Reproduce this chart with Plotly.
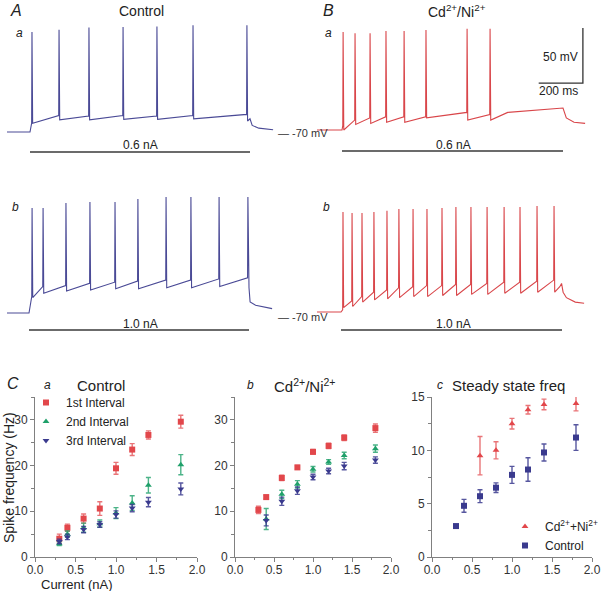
import plotly.graph_objects as go

W, H = 601, 591

# ---------------- DATA ----------------
current_nA = [0.3, 0.4, 0.6, 0.8, 1.0, 1.2, 1.4, 1.8]

# C a: Control
ctl_1st = [4.0, 6.4, 8.4, 10.6, 19.4, 23.5, 26.7, 29.6]
ctl_1st_err = [1.0, 0.8, 1.0, 1.5, 1.3, 1.3, 0.9, 1.4]
ctl_2nd = [2.9, 5.0, 6.4, 7.3, 9.6, 11.8, 15.7, 20.2]
ctl_2nd_err = [0.4, 0.7, 1.0, 0.8, 1.2, 1.6, 1.7, 2.2]
ctl_3rd = [3.4, 4.4, 6.0, 7.1, 9.3, 10.7, 12.0, 14.9]
ctl_3rd_err = [0.5, 0.6, 0.7, 0.6, 0.8, 0.8, 1.0, 1.3]

# C b: Cd2+/Ni2+
cd_x = [0.3, 0.4, 0.6, 0.8, 1.0, 1.2, 1.4, 1.8]
cd_1st = [10.3, 13.1, 17.3, 19.6, 23.0, 24.3, 26.1, 28.2]
cd_1st_err = [0.8, 0.4, 0.6, 0.4, 0.5, 0.6, 0.6, 0.9]
cd_x23 = [0.4, 0.6, 0.8, 1.0, 1.2, 1.4, 1.8]
cd_2nd = [8.3, 13.7, 15.9, 19.2, 20.8, 22.2, 23.7]
cd_2nd_err = [2.3, 0.9, 0.8, 0.6, 0.5, 0.7, 0.8]
cd_3rd = [8.0, 12.2, 14.5, 17.5, 18.8, 19.9, 21.2]
cd_3rd_err = [1.2, 0.9, 0.8, 0.6, 0.6, 0.8, 0.7]

# C c: steady state freq
ss_cd_x = [0.6, 0.8, 1.0, 1.2, 1.4, 1.8]
ss_cd = [9.5, 10.0, 12.5, 13.8, 14.3, 14.4]
ss_cd_err = [1.8, 0.8, 0.5, 0.4, 0.5, 0.7]
ss_ctl_x = [0.3, 0.4, 0.6, 0.8, 1.0, 1.2, 1.4, 1.8]
ss_ctl = [2.9, 4.8, 5.7, 6.5, 7.7, 8.2, 9.8, 11.2]
ss_ctl_err = [0.0, 0.6, 0.6, 0.45, 0.8, 1.1, 0.8, 1.2]

# Voltage traces (ms, mV)
# A a: Control, 0.6 nA
Aa_spk_t = [9, 132, 268, 423, 577, 741, 986]
Aa_peak = [21, 23, 25, 25.5, 26, 27, 27]
Aa_trough = [-62, -59, -59, -58.5, -58.5, -58, -60]
Aa_pre = [-62, -55, -55.5, -55, -55.5, -55, -54]
Aa_tail_t = [1000, 1010, 1040, 1105]
Aa_tail_v = [-58, -64, -66.5, -68]

# A b: Control, 1.0 nA
Ab_spk_t = [14, 64, 168, 277, 391, 495, 623, 736, 864, 995]
Ab_peak = [25.5, 25.5, 30, 31, 31, 33.6, 35.5, 35.5, 35.5, 35.5]
Ab_trough = [-56, -52, -50, -49, -48, -48, -47, -47, -46, -47]
Ab_pre = [-55, -46, -45, -43, -42, -41, -40, -40, -39, -38]
Ab_tail_t = [1000, 1005, 1030, 1105]
Ab_tail_v = [-47, -60, -63, -66]

# B a: Cd2+/Ni2+, 0.6 nA
Ba_spk_t = [5, 59, 127, 199, 281, 380, 566, 670]
Ba_peak = [19, 18, 18, 20, 20, 21, 22, 22]
Ba_trough = [-70, -65, -64, -63, -63, -59, -61, -61]
Ba_pre = [-66, -61, -59, -58, -58, -58, -54, -56]
Ba_tail_t = [750, 1000, 1015, 1050, 1100]
Ba_tail_v = [-54, -50, -59, -63, -64]

# B b: Cd2+/Ni2+, 1.0 nA
Bb_spk_t = [9, 50, 95, 149, 208, 262, 326, 389, 457, 520, 588, 661, 738, 810, 887, 964]
Bb_peak = [21, 20, 20, 21, 22, 23.6, 23.6, 23.6, 24.5, 25.5, 25.5, 25.5, 25.5, 25.5, 26.4, 26.4]
Bb_trough = [-66, -65, -61, -59, -58, -57, -56, -56, -55, -55, -54, -54, -53, -53, -52, -52]
Bb_pre = [-68, -60, -56, -52, -50, -48, -47, -46, -46, -45, -45, -44, -43, -43, -42, -41]
Bb_tail_t = [990, 998, 1005, 1020, 1060, 1100]
Bb_tail_v = [-47, -44, -52, -57, -61, -62]

rest_mV = -70
step_ms = [0, 1000]
stim_labels = ["0.6 nA", "1.0 nA"]

# ---------------- COLORS ----------------
RED = "#e2474b"
RED_E = "rgba(226,71,75,0.75)"
GREEN = "#1fa06a"
GREEN_E = "rgba(31,160,106,0.8)"
BLUE = "#3a3a8e"
BLUE_E = "rgba(58,58,142,0.85)"
TR_BLUE = "#4a4a96"
TR_RED = "#d9464a"
FONT = "Liberation Sans, Arial, sans-serif"


def px_x(a, b):
    return [a / W, b / W]


def px_y(top, bottom):
    return [1 - bottom / H, 1 - top / H]


def build_trace(t_start, spk_t, peak, trough, pre, tail_t, tail_v):
    xs = [t_start, step_ms[0]]
    ys = [rest_mV, rest_mV]
    for t, p, tr, pr in zip(spk_t, peak, trough, pre):
        xs += [t - 1.5, t, t + 3]
        ys += [pr, p, tr]
    xs += list(tail_t)
    ys += list(tail_v)
    return xs, ys


fig = go.Figure()

# trace panel geometry (pixels)
K = 50 / 55  # mV per px
panels = {
    "1": dict(onset=30, s=0.22, x=(5, 278), base=132, y=(15, 165), bar=152),
    "2": dict(onset=342, s=0.221, x=(315, 592), base=130, y=(15, 165), bar=151),
    "3": dict(onset=29, s=0.22, x=(5, 278), base=313, y=(190, 345), bar=330),
    "4": dict(onset=341, s=0.221, x=(315, 592), base=312, y=(190, 345), bar=330),
}
trace_data = {
    "1": (Aa_spk_t, Aa_peak, Aa_trough, Aa_pre, Aa_tail_t, Aa_tail_v, TR_BLUE),
    "2": (Ba_spk_t, Ba_peak, Ba_trough, Ba_pre, Ba_tail_t, Ba_tail_v, TR_RED),
    "3": (Ab_spk_t, Ab_peak, Ab_trough, Ab_pre, Ab_tail_t, Ab_tail_v, TR_BLUE),
    "4": (Bb_spk_t, Bb_peak, Bb_trough, Bb_pre, Bb_tail_t, Bb_tail_v, TR_RED),
}

layout_axes = {}
for key, g in panels.items():
    xr = [(g["x"][0] - g["onset"]) / g["s"], (g["x"][1] - g["onset"]) / g["s"]]
    yr = [rest_mV - (g["y"][1] - g["base"]) * K, rest_mV + (g["base"] - g["y"][0]) * K]
    sfx = "" if key == "1" else key
    layout_axes["xaxis" + sfx] = dict(domain=px_x(*g["x"]), range=xr, visible=False,
                                     anchor="y" + sfx, fixedrange=True, automargin=False)
    layout_axes["yaxis" + sfx] = dict(domain=px_y(*g["y"]), range=yr, visible=False,
                                     anchor="x" + sfx, fixedrange=True, automargin=False)
    spk_t, peak, trough, pre, tt, tv, col = trace_data[key]
    xs, ys = build_trace(xr[0] + 2 / g["s"], spk_t, peak, trough, pre, tt, tv)
    fig.add_trace(go.Scatter(x=xs, y=ys, mode="lines", line=dict(color=col, width=1.1),
                             xaxis="x" + sfx, yaxis="y" + sfx, showlegend=False,
                             hoverinfo="skip"))
    bar_mV = rest_mV - (g["bar"] - g["base"]) * K
    fig.add_trace(go.Scatter(x=step_ms, y=[bar_mV, bar_mV], mode="lines",
                             line=dict(color="#3a3a3a", width=1.6),
                             xaxis="x" + sfx, yaxis="y" + sfx, showlegend=False,
                             hoverinfo="skip"))

# scale bar in B a (50 mV, 200 ms)
sb_t = [890, 1090, 1090]
sb_v = [-27.3, -27.3, 22.7]
fig.add_trace(go.Scatter(x=sb_t, y=sb_v, mode="lines", line=dict(color="#333", width=1.3),
                         xaxis="x2", yaxis="y2", showlegend=False, hoverinfo="skip"))


# ---------------- scatter panels ----------------
def eb(arr, col):
    return dict(type="data", array=arr, color=col, thickness=1.4, width=2.5)


MS = 6
fig.add_trace(go.Scatter(x=current_nA, y=ctl_1st, error_y=eb(ctl_1st_err, RED_E), mode="markers",
                         marker=dict(symbol="square", size=MS, color=RED), name="1st Interval",
                         xaxis="x5", yaxis="y5", legend="legend"))
fig.add_trace(go.Scatter(x=current_nA, y=ctl_2nd, error_y=eb(ctl_2nd_err, GREEN_E), mode="markers",
                         marker=dict(symbol="triangle-up", size=MS, color=GREEN), name="2nd Interval",
                         xaxis="x5", yaxis="y5", legend="legend"))
fig.add_trace(go.Scatter(x=current_nA, y=ctl_3rd, error_y=eb(ctl_3rd_err, BLUE_E), mode="markers",
                         marker=dict(symbol="triangle-down", size=MS, color=BLUE), name="3rd Interval",
                         xaxis="x5", yaxis="y5", legend="legend"))

fig.add_trace(go.Scatter(x=cd_x, y=cd_1st, error_y=eb(cd_1st_err, RED_E), mode="markers",
                         marker=dict(symbol="square", size=MS, color=RED), showlegend=False,
                         xaxis="x6", yaxis="y6"))
fig.add_trace(go.Scatter(x=cd_x23, y=cd_2nd, error_y=eb(cd_2nd_err, GREEN_E), mode="markers",
                         marker=dict(symbol="triangle-up", size=MS, color=GREEN), showlegend=False,
                         xaxis="x6", yaxis="y6"))
fig.add_trace(go.Scatter(x=cd_x23, y=cd_3rd, error_y=eb(cd_3rd_err, BLUE_E), mode="markers",
                         marker=dict(symbol="triangle-down", size=MS, color=BLUE), showlegend=False,
                         xaxis="x6", yaxis="y6"))

fig.add_trace(go.Scatter(x=ss_cd_x, y=ss_cd, error_y=eb(ss_cd_err, RED_E), mode="markers",
                         marker=dict(symbol="triangle-up", size=MS, color=RED),
                         name="Cd<sup>2+</sup>+Ni<sup>2+</sup>",
                         xaxis="x7", yaxis="y7", legend="legend2"))
fig.add_trace(go.Scatter(x=ss_ctl_x, y=ss_ctl, error_y=eb(ss_ctl_err, BLUE_E), mode="markers",
                         marker=dict(symbol="square", size=MS, color=BLUE), name="Control",
                         xaxis="x7", yaxis="y7", legend="legend2"))

AX = "#808080"
tickfont = dict(family=FONT, size=12, color="#333")


def sx(dom):
    return dict(domain=px_x(*dom), range=[0, 2.0], tickvals=[0, 0.5, 1.0, 1.5, 2.0],
                tickformat=".1f", showline=True, linecolor=AX, linewidth=1, ticks="outside",
                ticklen=4, tickcolor=AX, tickfont=tickfont, showgrid=False, zeroline=False,
                ticklabelstandoff=-2,
                minor=dict(tickvals=[0.25, 0.75, 1.25, 1.75], ticklen=2, tickcolor=AX, ticks="outside"),
                fixedrange=True, automargin=False)


def sy(top_val, major, minor):
    return dict(domain=px_y(397, 557), range=[0, top_val], dtick=major, showline=True,
                linecolor=AX, linewidth=1, ticks="outside", ticklen=4, tickcolor=AX,
                tickfont=tickfont, showgrid=False, zeroline=False,
                minor=dict(dtick=minor, ticklen=3, tickcolor=AX, ticks="outside"),
                fixedrange=True, automargin=False)


layout_axes["xaxis5"] = dict(sx((35, 197)), anchor="y5")
layout_axes["yaxis5"] = dict(sy(35, 10, 5), anchor="x5")
layout_axes["xaxis6"] = dict(sx((235, 391)), anchor="y6")
layout_axes["yaxis6"] = dict(sy(35, 10, 5), anchor="x6")
layout_axes["xaxis7"] = dict(sx((432, 592)), anchor="y7")
layout_axes["yaxis7"] = dict(sy(15, 5, 2.5), anchor="x7")

# ---------------- annotations ----------------
ann = []


def txt(x, y, text, size=13, italic=False, xanchor="center", color="#222", angle=0):
    t = f"<i>{text}</i>" if italic else text
    ann.append(dict(x=x / W, y=1 - y / H, xref="paper", yref="paper", text=t, showarrow=False,
                    xanchor=xanchor, yanchor="middle", textangle=angle,
                    font=dict(family=FONT, size=size, color=color)))


txt(16, 11, "A", 16, True)
txt(141, 11, "Control", 14)
txt(328, 11, "B", 16, True)
txt(457, 11, "Cd<sup>2+</sup>/Ni<sup>2+</sup>", 14)
txt(19, 33, "a", 12, True)
txt(328, 33, "a", 12, True)
txt(15, 207, "b", 12, True)
txt(326, 207, "b", 12, True)
txt(140, 145, stim_labels[0], 12)
txt(453, 145, stim_labels[0], 12)
txt(140, 324, stim_labels[1], 12)
txt(453, 324, stim_labels[1], 12)
txt(276, 133, "— -70 mV", 11, xanchor="left", color="#333")
txt(276, 317, "— -70 mV", 11, xanchor="left", color="#333")
txt(580, 57, "50 mV", 12, xanchor="right")
txt(580, 91, "200 ms", 12, xanchor="right")

txt(13, 383, "C", 16, True)
txt(47, 385, "a", 12, True)
txt(101, 385, "Control", 15)
txt(250, 385, "b", 12, True)
txt(305, 385, "Cd<sup>2+</sup>/Ni<sup>2+</sup>", 15)
txt(440, 385, "c", 12, True)
txt(508, 385, "Steady state freq", 15)

txt(77, 584, "Current (nA)", 13)
txt(9, 478, "Spike frequency (Hz)", 14, angle=-90)

fig.update_layout(
    template="none",
    width=W, height=H, margin=dict(l=0, r=0, t=0, b=0, pad=0, autoexpand=False),
    paper_bgcolor="white", plot_bgcolor="white",
    font=dict(family=FONT, size=12, color="#222"),
    annotations=ann,
    legend=dict(x=26 / W, y=1 - 388 / H, xanchor="left", yanchor="top", bgcolor="rgba(0,0,0,0)",
                font=dict(family=FONT, size=12, color="#222"), itemwidth=30, tracegroupgap=0,
                borderwidth=0),
    legend2=dict(x=505 / W, y=1 - 512 / H, xanchor="left", yanchor="top", bgcolor="rgba(0,0,0,0)",
                 font=dict(family=FONT, size=12, color="#222"), itemwidth=30, tracegroupgap=0,
                 borderwidth=0),
    **layout_axes,
)

fig.write_html("out.html", config={"displayModeBar": False, "staticPlot": True},
               post_script="document.body.style.margin='0';document.body.style.overflow='hidden';")
